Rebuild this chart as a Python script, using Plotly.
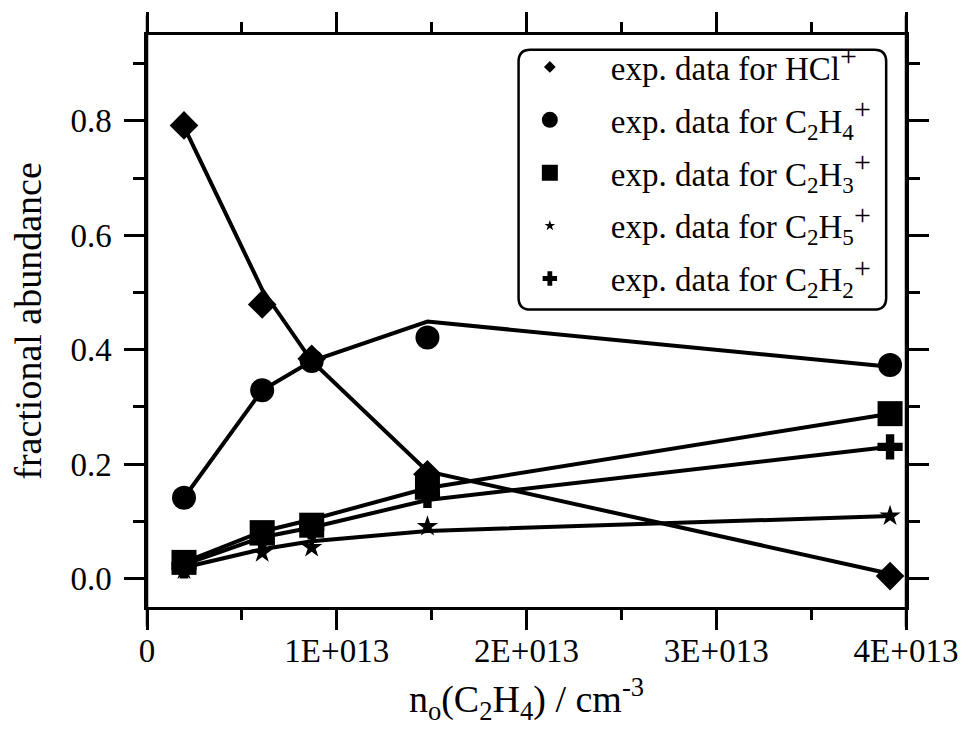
import plotly.graph_objects as go

# ---------------- data ----------------
n_c2h4 = [0.195e13, 0.607e13, 0.868e13, 1.478e13, 3.916e13]

PLUS = "<sup><span style='font-size:30px'>+</span></sup>"
species = ["HCl" + PLUS,
           "C<sub>2</sub>H<sub>4</sub>" + PLUS,
           "C<sub>2</sub>H<sub>3</sub>" + PLUS,
           "C<sub>2</sub>H<sub>5</sub>" + PLUS,
           "C<sub>2</sub>H<sub>2</sub>" + PLUS]

exp_hcl = [0.792, 0.479, 0.384, 0.182, 0.004]
exp_c2h4 = [0.141, 0.329, 0.380, 0.421, 0.373]
exp_c2h3 = [0.028, 0.080, 0.093, 0.161, 0.288]
exp_c2h5 = [0.015, 0.045, 0.054, 0.091, 0.109]
exp_c2h2 = [0.022, 0.065, 0.090, 0.145, 0.230]

model_hcl = [0.790, 0.505, 0.380, 0.187, 0.008]
model_c2h4 = [0.141, 0.329, 0.380, 0.449, 0.370]
model_c2h3 = [0.028, 0.082, 0.103, 0.158, 0.288]
model_c2h5 = [0.019, 0.051, 0.065, 0.083, 0.109]
model_c2h2 = [0.024, 0.072, 0.089, 0.137, 0.230]

x_tickvals = [0, 1e13, 2e13, 3e13, 4e13]
x_ticktext = ["0", "1E+013", "2E+013", "3E+013", "4E+013"]
x_minor = [0.5e13, 1.5e13, 2.5e13, 3.5e13]
y_tickvals = [0.0, 0.2, 0.4, 0.6, 0.8]
y_ticktext = ["0.0", "0.2", "0.4", "0.6", "0.8"]
y_minor = [0.1, 0.3, 0.5, 0.7, 0.9]

# ---------------- styling ----------------
FONT = "Liberation Serif, Times New Roman, serif"
W, H = 970, 738
ML, MR, MT, MB = 147, 57, 30, 131
PW, PH = W - ML - MR, H - MT - MB

exp_sets = [exp_hcl, exp_c2h4, exp_c2h3, exp_c2h5, exp_c2h2]
model_sets = [model_hcl, model_c2h4, model_c2h3, model_c2h5, model_c2h2]
symbols = ["diamond", "circle", "square", "star", "cross"]
plot_sizes = [22, 24, 25, 16, 21]
legend_sizes = [9, 16, 16, 8, 12]

fig = go.Figure()

for m in model_sets:
    fig.add_trace(go.Scatter(x=n_c2h4, y=m, mode="lines",
                             line=dict(color="black", width=4),
                             showlegend=False, hoverinfo="skip"))

for e, s, sz in zip(exp_sets, symbols, plot_sizes):
    fig.add_trace(go.Scatter(x=n_c2h4, y=e, mode="markers",
                             marker=dict(symbol=s, size=sz, color="black",
                                         line=dict(width=0)),
                             showlegend=False))

for i, (name, s, sz) in enumerate(zip(species, symbols, legend_sizes)):
    fig.add_trace(go.Scatter(x=[None], y=[None], mode="markers",
                             name="exp. data for " + name,
                             legendgroup=f"g{i}",
                             marker=dict(symbol=s, size=sz, color="black",
                                         line=dict(width=0))))

axis_common = dict(showline=True, linewidth=2.5, linecolor="black",
                   mirror="allticks", ticks="outside", ticklen=20,
                   tickwidth=2.5, tickcolor="black", showgrid=False,
                   zeroline=False,
                   tickfont=dict(family=FONT, size=33, color="black"))

fig.update_xaxes(range=[0, 4e13], tickmode="array", tickvals=x_tickvals,
                 ticktext=x_ticktext,
                 minor=dict(tickmode="array", tickvals=x_minor, ticks="outside",
                            ticklen=10, tickwidth=2.5, tickcolor="black",
                            showgrid=False),
                 ticklabelstandoff=-7,
                 title=dict(text="n<sub>o</sub>(C<sub>2</sub>H<sub>4</sub>) / cm<sup>-3</sup>",
                            font=dict(family=FONT, size=38, color="black"),
                            standoff=18),
                 **axis_common)

fig.update_yaxes(range=[-0.05, 0.95], tickmode="array", tickvals=y_tickvals,
                 ticktext=y_ticktext,
                 minor=dict(tickmode="array", tickvals=y_minor, ticks="outside",
                            ticklen=11, tickwidth=2.5, tickcolor="black",
                            showgrid=False),
                 ticklabelstandoff=6,
                 title=dict(text="fractional abundance",
                            font=dict(family=FONT, size=38, color="black"),
                            standoff=18),
                 **axis_common)

# extended vertical axis lines (beyond the frame, as in the reference)
ext = 20 / PH
for xp in (0, 1):
    fig.add_shape(type="line", xref="paper", yref="paper", x0=xp, x1=xp,
                  y0=-ext, y1=1 + ext, line=dict(color="black", width=2.5))

# rounded legend box
bx0, bx1, by0, by1 = 522, 893, 45, 307
def px2x(p):
    return (p - ML) / PW
def py2y(p):
    return (H - MB - p) / PH
r = 12
X0, X1 = px2x(bx0), px2x(bx1)
Y0, Y1 = py2y(by1), py2y(by0)
rx, ry = r / PW, r / PH
path = (f"M {X0+rx},{Y1} L {X1-rx},{Y1} Q {X1},{Y1} {X1},{Y1-ry} "
        f"L {X1},{Y0+ry} Q {X1},{Y0} {X1-rx},{Y0} "
        f"L {X0+rx},{Y0} Q {X0},{Y0} {X0},{Y0+ry} "
        f"L {X0},{Y1-ry} Q {X0},{Y1} {X0+rx},{Y1} Z")
fig.add_shape(type="path", xref="paper", yref="paper", path=path,
              line=dict(color="black", width=2.5), fillcolor="white",
              layer="below")

fig.update_layout(
    width=W, height=H,
    margin=dict(l=ML, r=MR, t=MT, b=MB),
    paper_bgcolor="white", plot_bgcolor="white",
    font=dict(family=FONT, color="black"),
    showlegend=True,
    legend=dict(x=px2x(492), y=py2y(by0 - 11), xanchor="left", yanchor="top",
                bgcolor="rgba(0,0,0,0)", borderwidth=0,
                font=dict(family=FONT, size=33, color="black"),
                itemwidth=112, tracegroupgap=7, traceorder="grouped"),
)

fig.write_html("out.html")
